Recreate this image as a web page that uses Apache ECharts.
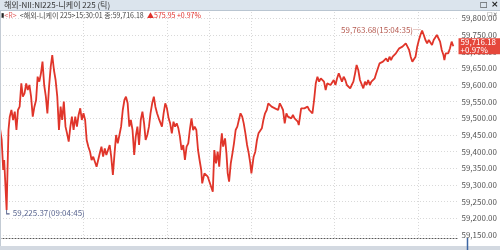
<!DOCTYPE html>
<html><head><meta charset="utf-8">
<script src="https://cdn.jsdelivr.net/npm/echarts@6/dist/echarts.min.js"></script>
<style>html,body{margin:0;padding:0;background:#fff}#c{width:500px;height:250px}</style>
</head><body><div id="c"></div>
<script>
// trading minutes since 09:00 (lunch 11:30-12:30 collapsed)
const times = [0,1.2,2.3,3.0,3.7,4.75,5.4,6.1,7.0,8.2,9.4,10.6,11.8,12.9,14.1,15.3,16.4,17.6,18.8,19.9,21.1,22.3,23.5,24.7,25.9,27.0,28.2,29.4,30.5,31.7,32.9,34.0,35.2,36.4,37.5,38.7,39.9,41.1,42.3,43.5,44.6,45.8,47.0,48.1,49.3,50.5,51.6,52.8,54.0,55.2,56.4,57.6,58.7,59.9,61.1,62.2,63.4,64.6,65.7,66.9,69.3,71.6,72.8,74.0,75.2,76.3,77.5,78.7,79.8,81.0,82.2,83.3,84.5,85.7,86.9,88.1,89.3,90.4,91.6,92.8,93.9,95.1,96.3,97.4,98.6,99.8,101.0,102.2,103.4,104.5,105.7,106.9,108.0,109.2,110.4,111.5,112.7,113.9,115.0,116.2,117.4,118.6,119.8,121.0,122.1,123.3,124.5,125.6,126.8,128.0,129.1,130.3,131.5,132.7,133.9,135.1,136.2,137.4,138.6,139.7,140.9,142.1,143.2,144.4,145.1,146.7,147.9,149.1,150.3,151.5,152.7,153.8,155.0,156.2,157.3,158.5,159.2,160.1,161.5,162.5,163.4,164.4,165.6,166.8,167.9,169.1,170.3,171.4,172.6,173.8,174.9,176.1,177.3,178.5,179.6,180.4,182.0,183.2,184.4,185.5,186.7,187.9,189.0,190.2,191.4,192.5,193.7,194.9,196.1,197.3,198.5,199.6,200.8,202.0,203.1,204.3,205.5,206.6,207.8,209.0,210.2,211.4,212.5,213.7,214.4,216.1,217.2,218.4,219.6,220.7,221.9,223.1,224.2,225.4,226.6,227.8,229.0,230.2,231.3,232.5,233.7,234.8,236.0,237.2,238.3,239.5,240.7,241.9,243.1,244.2,245.4,246.6,247.8,248.9,250.1,251.3,252.4,253.6,254.8,255.9,257.1,258.3,259.5,260.7,261.9,263.0,264.2,265.4,266.5,267.7,268.9,270.0,271.2,272.4,273.6,274.8,276.0,277.1,278.3,279.5,280.6,281.8,283.0,284.1,285.3,286.5,287.6,288.8,290.0,291.2,292.4,293.6,294.7,295.9,297.1,298.2,299.4,300.6,301.7,302.9,304.1,305.3,306.5,307.7,308.8,310.0,311.2,312.3,313.5,314.7,315.8,317.0,318.2,318.9,319.8,320.5,321.7,322.9,324.1,325.3];
const prices = [59470,59435,59345,59375,59315,59225.37,59345,59465,59505,59525,59495,59520,59465,59525,59535,59605,59565,59575,59605,59585,59600,59565,59505,59535,59555,59625,59610,59635,59670,59600,59565,59515,59595,59655,59690,59645,59615,59565,59465,59535,59495,59550,59475,59455,59430,59475,59505,59465,59505,59475,59510,59530,59495,59515,59495,59435,59415,59400,59375,59385,59355,59395,59415,59385,59410,59390,59405,59420,59385,59330,59395,59450,59425,59450,59475,59525,59555,59565,59545,59475,59495,59465,59390,59445,59475,59420,59495,59520,59485,59435,59450,59475,59515,59545,59565,59535,59515,59500,59505,59475,59515,59545,59530,59500,59485,59455,59490,59475,59485,59470,59445,59405,59420,59375,59415,59425,59465,59500,59465,59475,59465,59405,59375,59345,59305,59335,59340,59325,59330,59295,59280,59405,59365,59400,59355,59425,59455,59415,59440,59395,59335,59310,59365,59395,59425,59465,59475,59495,59515,59505,59485,59455,59420,59395,59365,59335,59385,59400,59435,59455,59460,59470,59495,59515,59525,59545,59550,59535,59540,59530,59535,59525,59545,59535,59525,59485,59515,59505,59510,59500,59510,59500,59505,59490,59480,59530,59535,59530,59530,59535,59525,59530,59515,59555,59605,59625,59610,59620,59625,59610,59585,59605,59610,59600,59605,59615,59600,59620,59635,59630,59610,59625,59615,59600,59595,59590,59600,59610,59635,59660,59645,59615,59610,59590,59610,59600,59615,59600,59610,59605,59620,59635,59650,59665,59660,59670,59665,59680,59670,59685,59675,59685,59690,59695,59700,59710,59705,59715,59720,59725,59715,59705,59685,59670,59665,59685,59715,59735,59750,59763.68,59750,59735,59725,59735,59740,59720,59735,59740,59750,59745,59730,59705,59690,59675,59695,59700,59695,59710,59730,59716.18];
const yTicks = [59150,59200,59250,59300,59350,59400,59450,59500,59550,59600,59650,59700,59750,59800];
const xGridTimes = [60,120,150,180,240,300]; // 10:00, 11:00, 11:30|12:30, 13:00, 14:00, 15:00
const highPoint = {t: 302.9, v: 59763.68, label: '59,763.68(15:04:35)'};
const lowPoint = {t: 4.75, v: 59225.37, label: '59,225.37(09:04:45)'};
const lastPrice = 59716.18, change = '575.95', changePct = '+0.97%';
const titleText = '해외-NII:NI225-니케이 225 (틱)';
const infoText = '<해외-니케이 225>15:30:01 종:59,716.18';

const NARROW = "'Liberation Sans Narrow','Noto Sans CJK KR',sans-serif";
const fmt = v => v.toLocaleString('en-US',{minimumFractionDigits:2,maximumFractionDigits:2});
const X_MAX = 329;

const chart = echarts.init(document.getElementById('c'), null, {renderer:'canvas'});
chart.setOption({
  animation:false,
  backgroundColor:'#fff',
  grid:{left:0,right:33,top:12,bottom:12},
  xAxis:{type:'value',min:0,max:X_MAX,
    axisLine:{show:true,onZero:false,lineStyle:{color:'#555',type:[1,2],width:1}},
    axisTick:{show:false,customValues:xGridTimes},
    axisLabel:{show:false,customValues:xGridTimes},
    splitLine:{show:true,lineStyle:{color:'#d9d9d9',type:[1,2]}}},
  yAxis:{type:'value',position:'right',min:59141,max:59819,
    axisLine:{show:true,lineStyle:{color:'#d4483e',width:1.5}},
    axisTick:{show:false,customValues:yTicks},
    axisLabel:{customValues:yTicks,formatter:v=>fmt(v),color:'#555',fontSize:8,fontFamily:NARROW,margin:3},
    splitLine:{show:true,lineStyle:{color:'#d9d9d9',type:[1,2]}}},
  series:[{
    type:'line',z:3,showSymbol:false,silent:true,
    data:times.map((t,i)=>[t,prices[i]]),
    lineStyle:{color:'#e0352a',width:1.8},
    markPoint:{silent:true,data:[
      {coord:[highPoint.t,highPoint.v],symbol:'circle',symbolSize:0.1,
       label:{show:true,position:'left',distance:1,formatter:highPoint.label+'─',color:'#b55a50',fontSize:8,fontFamily:NARROW}},
      {coord:[lowPoint.t,lowPoint.v],symbol:'path://M0,0L0,10L8,10',symbolSize:[3,4],symbolOffset:[1.5,2],
       itemStyle:{color:'none',borderColor:'#55608a',borderWidth:1},
       label:{show:true,position:'right',distance:1,offset:[0,1],formatter:lowPoint.label,color:'#5a6690',fontSize:8,fontFamily:NARROW}},
      {coord:[X_MAX,lastPrice],symbol:'circle',symbolSize:0.1,
       label:{show:true,position:'right',distance:0,formatter:fmt(lastPrice)+'\n'+changePct,
         backgroundColor:'#e5473b',color:'#fff',fontSize:8,lineHeight:8,padding:[0,4,0,2],fontFamily:NARROW,align:'left'}}
    ]}
  }],
  graphic:[
    {type:'rect',z:10,shape:{x:0,y:0,width:500,height:10},style:{fill:'#dbe4ed'}},
    {type:'line',z:10,shape:{x1:0,y1:10.5,x2:500,y2:10.5},style:{stroke:'#b9c5d1',lineWidth:1}},
    {type:'text',z:11,x:4,y:5,style:{text:titleText,fill:'#333',font:"8px "+NARROW,verticalAlign:'middle'}},
    {type:'text',z:11,x:480,y:5,style:{text:'□',fill:'#222',font:"bold 8px 'DejaVu Sans',sans-serif",verticalAlign:'middle'}},
    {type:'text',z:11,x:491,y:5,style:{text:'×',fill:'#222',font:"bold 9px 'DejaVu Sans',sans-serif",verticalAlign:'middle'}},
    {type:'text',z:11,x:1,y:15,style:{
      text:'{b|▮}{r|<R>} {g|'+infoText+'} {u|▲'+change+' '+changePct+'}',
      verticalAlign:'middle',
      rich:{
        b:{fill:'#222',font:"6px 'DejaVu Sans',sans-serif"},
        r:{fill:'#e06060',font:"7px "+NARROW},
        g:{fill:'#444',font:"7px "+NARROW},
        u:{fill:'#e0302a',font:"7px "+NARROW}
      }}},
    {type:'text',z:11,x:487,y:14,style:{text:'□×',fill:'#666',font:"6px 'DejaVu Sans',sans-serif",verticalAlign:'middle'}},
    {type:'line',z:10,shape:{x1:0.5,y1:11,x2:0.5,y2:246},style:{stroke:'#c3cbd4',lineWidth:1}},
    {type:'rect',z:10,shape:{x:0,y:246,width:500,height:4},style:{fill:'#d3d9e1'}},
    {type:'line',z:12,shape:{x1:467.5,y1:238,x2:467.5,y2:250},style:{stroke:'#3d66a3',lineWidth:1.5}}
  ]
});
</script></body></html>
